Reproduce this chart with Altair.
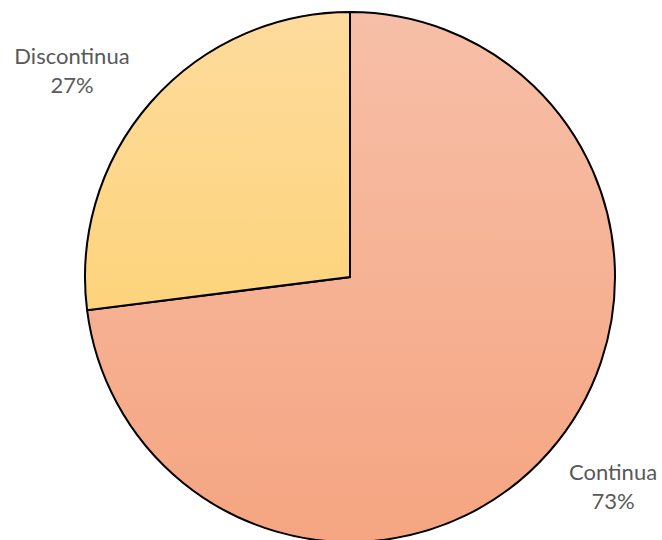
import altair as alt
import pandas as pd

categories = ["Continua", "Discontinua"]
values = [73, 27]
labels = ["73%", "27%"]

df = pd.DataFrame({"Category": categories, "Value": values, "Pct": labels})

grad_cont = alt.LinearGradient(
    gradient="linear", x1=0, x2=0, y1=0, y2=1,
    stops=[alt.GradientStop(offset=0, color="#F7BFA8"),
           alt.GradientStop(offset=1, color="#F5A581")],
)
grad_disc = alt.LinearGradient(
    gradient="linear", x1=0, x2=0, y1=0, y2=1,
    stops=[alt.GradientStop(offset=0, color="#FEDB9D"),
           alt.GradientStop(offset=1, color="#FDD47C")],
)

base = alt.Chart(df).transform_window(
    cum="sum(Value)", frame=[None, 0]
).transform_calculate(
    start="datum.cum - datum.Value",
    mid="datum.cum - datum.Value/2",
    label="[datum.Category, datum.Pct]",
)

theta_scale = alt.Scale(domain=[0, 100], range=[0, 6.283185307179586])

def slice_layer(cat, grad):
    return base.transform_filter(alt.datum.Category == cat).mark_arc(
        radius=265, stroke="#000000", strokeWidth=2, color=grad
    ).encode(
        theta=alt.Theta("start:Q", scale=theta_scale),
        theta2="cum:Q",
        x=alt.value(350),
        y=alt.value(277),
    )

def text_layer(cat, dx, dy):
    return base.transform_filter(alt.datum.Category == cat).mark_text(
        font="Lato", fontSize=22, color="#595959", lineHeight=29,
        align="center", baseline="middle", dx=dx, dy=dy,
    ).encode(
        theta=alt.Theta("mid:Q", scale=theta_scale),
        radius=alt.value(340),
        text="label:N",
        x=alt.value(350),
        y=alt.value(277),
    )

chart = alt.layer(
    slice_layer("Continua", grad_cont),
    slice_layer("Discontinua", grad_disc),
    text_layer("Continua", 8, -29),
    text_layer("Discontinua", -23, 5),
).properties(
    width=662, height=540, padding=0, autosize=alt.AutoSizeParams(type="none")
).configure_view(stroke=None)

chart.save("out.html", embed_options={"renderer": "svg", "actions": False})
